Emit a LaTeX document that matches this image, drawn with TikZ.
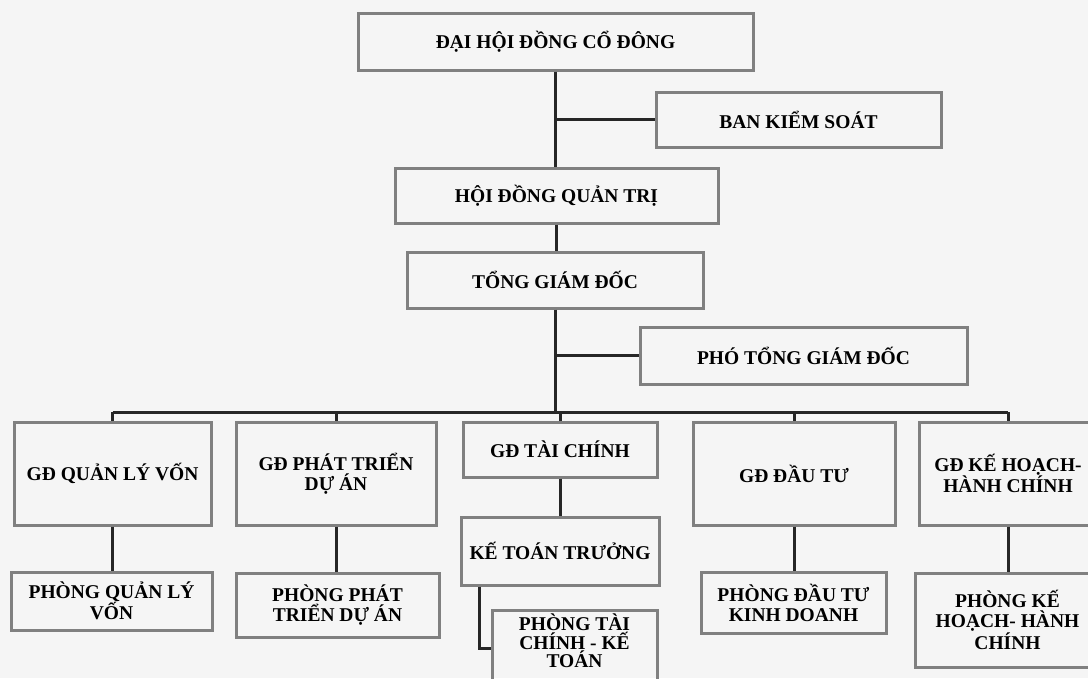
\documentclass[tikz,border=0pt]{standalone}
\usepackage{fontspec}
\setmainfont{Liberation Serif}
\usepackage{xcolor}
\usepackage{tikz}

\begin{document}
\begin{tikzpicture}[
        x=1pt, y=-1pt,
        unit/.style={draw=black!50, line width=3pt, inner sep=0pt, align=center, font=\fontsize{19.5}{20}\selectfont\bfseries},
        link/.style={line width=3pt, black!85}
    ]
        \useasboundingbox[fill=black!4] (0,0) rectangle (1088,678);

        \node[unit, minimum width=395, minimum height=57] (dhcd) at (555.5,41.5) {ĐẠI HỘI ĐỒNG CỔ ĐÔNG};
        \node[unit, minimum width=285, minimum height=55] (bks) at (798.5,119.5) {BAN KIỂM SOÁT};
        \node[unit, minimum width=323, minimum height=55] (hdqt) at (556.5,195.5) {HỘI ĐỒNG QUẢN TRỊ};
        \node[unit, minimum width=296, minimum height=56] (tgd) at (555,280) {TỔNG GIÁM ĐỐC};
        \node[unit, minimum width=327, minimum height=57] (ptgd) at (803.5,355.5) {PHÓ TỔNG GIÁM ĐỐC};
        \coordinate (bus) at (555,412);

        \node[unit, minimum width=197, minimum height=103] (gdqlv) at (112.5,473.5) {GĐ QUẢN LÝ VỐN};
        \node[unit, minimum width=200, minimum height=103] (gdptda) at (336,473.5) {GĐ PHÁT TRIỂN\\DỰ ÁN};
        \node[unit, minimum width=194, minimum height=55] (gdtc) at (560,449.5) {GĐ TÀI CHÍNH};
        \node[unit, minimum width=202, minimum height=103] (gddt) at (794,473.5) {GĐ ĐẦU TƯ};
        \node[unit, minimum width=178, minimum height=103] (gdkhhc) at (1008,473.5) {GĐ KẾ HOẠCH-\\HÀNH CHÍNH};

        \node[unit, minimum width=198, minimum height=68] (ktt) at (560,551) {KẾ TOÁN TRƯỞNG};
        \node[unit, minimum width=165, minimum height=76, font=\fontsize{19.5}{18.5}\selectfont\bfseries] (ptckt) at (574.5,648) {PHÒNG TÀI\\CHÍNH - KẾ\\TOÁN\\[-4pt]\mbox{}};
        \node[unit, minimum width=201, minimum height=58] (pqlv) at (111.5,601) {PHÒNG QUẢN LÝ\\VỐN};
        \node[unit, minimum width=203, minimum height=64] (pptda) at (337.5,605) {PHÒNG PHÁT\\TRIỂN DỰ ÁN};
        \node[unit, minimum width=185, minimum height=61] (pdtkd) at (793.5,602.5) {PHÒNG ĐẦU TƯ\\KINH DOANH};
        \node[unit, minimum width=185, minimum height=94] (pkhhc) at (1007.5,620) {PHÒNG KẾ\\HOẠCH- HÀNH\\CHÍNH};

        % trunk
        \draw[link] (dhcd.south) -- (dhcd.south |- hdqt.north);
        \draw[link] (dhcd.south |- bks.west) -- (bks.west);
        \draw[link] (hdqt.south) -- (hdqt.south |- tgd.north);
        \draw[link] (tgd.south) -- (bus);
        \draw[link] (tgd.south |- ptgd.west) -- (ptgd.west);
        \draw[link] (gdqlv.north |- bus) -- (gdkhhc.north |- bus);
        \foreach \n in {gdqlv,gdptda,gdtc,gddt,gdkhhc}
            \draw[link] (\n.north |- bus) -- (\n.north);

        % departments
        \foreach \a/\b in {gdqlv/pqlv,gdptda/pptda,gdtc/ktt,gddt/pdtkd,gdkhhc/pkhhc}
            \draw[link] (\a.south) -- (\a.south |- \b.north);
        \draw[link] ([xshift=20]ktt.south west) |- (ptckt.west);
    \end{tikzpicture}
\end{document}
